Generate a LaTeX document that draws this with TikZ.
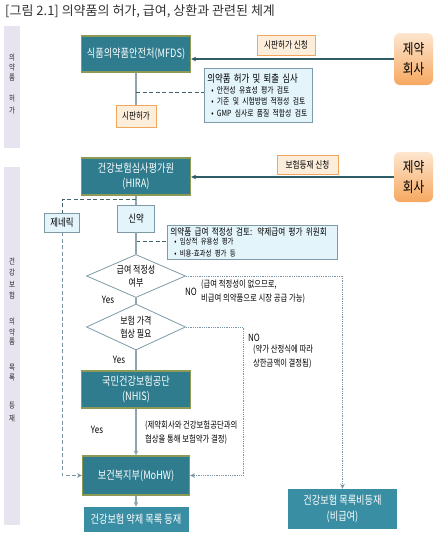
\documentclass[tikz,border=0pt]{standalone}
\usepackage{fontspec}
\setmainfont{Noto Sans CJK KR}[FakeStretch=0.8]
\newfontfamily\titlefont{Noto Sans CJK KR}
\usetikzlibrary{shapes.geometric,arrows.meta}

\definecolor{boxteal}{HTML}{2E7C8E}
\definecolor{listteal}{HTML}{3A8EA4}
\definecolor{boxrim}{HTML}{8C9A55}
\definecolor{peachfill}{HTML}{FDEEDC}
\definecolor{peachline}{HTML}{F2A65E}
\definecolor{palefill}{HTML}{E3F4FB}
\definecolor{paleline}{HTML}{7F9AA7}
\definecolor{darkarrow}{HTML}{2F5C66}
\definecolor{linkgray}{HTML}{8FA5AE}
\definecolor{dashgray}{HTML}{44626C}
\definecolor{dotgray}{HTML}{7A95A3}
\definecolor{sidebar}{HTML}{E7E4F0}
\definecolor{comptop}{HTML}{FDE6CF}
\definecolor{compbottom}{HTML}{F6A860}

\tikzset{
  agency/.style={draw=boxrim, line width=1.2pt, fill=boxteal, text=white, align=center,
    inner sep=0pt, font=\fontsize{11.5}{15}\selectfont},
  listbox/.style={fill=listteal, text=white, align=center, inner sep=0pt,
    font=\fontsize{11.5}{16}\selectfont},
  applybox/.style={draw=peachline, line width=0.8pt, fill=peachfill, inner sep=0pt,
    font=\fontsize{9.5}{11}\selectfont},
  reviewbox/.style={draw=paleline, line width=0.6pt, fill=palefill, align=left, inner sep=3pt},
  drugbox/.style={draw=paleline, line width=0.6pt, fill=palefill, inner sep=0pt,
    font=\fontsize{10.5}{12}\selectfont},
  company/.style={rounded corners=6pt, top color=comptop, bottom color=compbottom,
    align=center, inner sep=0pt, font=\fontsize{14.5}{20}\selectfont},
  decision/.style={diamond, aspect=2.3, draw=paleline, line width=0.8pt, fill=white,
    inner sep=0pt, align=center, minimum width=99, minimum height=43,
    font=\fontsize{10}{13}\selectfont},
  note/.style={align=left, inner sep=0pt, font=\fontsize{9.2}{14}\selectfont},
  answer/.style={inner sep=0pt, font=\fontsize{10}{11}\selectfont},
  sidechar/.style={inner sep=0pt, text=black!85, font=\fontsize{8}{9}\selectfont},
  link/.style={draw=linkgray, line width=1.2pt},
  dashlink/.style={draw=dashgray, line width=0.8pt, dash pattern=on 4pt off 2.5pt},
  dotlink/.style={draw=dotgray, line width=0.8pt, densely dotted},
  request/.style={draw=darkarrow, line width=1.3pt}
}

\begin{document}
\begin{tikzpicture}[x=1pt,y=-1pt,>={Stealth[length=5pt,width=4.5pt]}]
\useasboundingbox (0,0) rectangle (439,536);
\fill[white] (0,0) rectangle (439,536);

% title
\node[anchor=west, inner sep=0pt, text=black!80, font=\titlefont\fontsize{13}{14}\selectfont]
  (title) at (5,11) {[그림 2.1] 의약품의 허가, 급여, 상환과 관련된 체계};

% side bars
\fill[sidebar] (4,26) rectangle (20,148);
\fill[sidebar] (4,167) rectangle (20,525);
\foreach \ch/\y [count=\i] in {의/58,약/68,품/78,허/99,가/110}
  \node[sidechar] (pa\i) at (12,\y) {\ch};
\foreach \ch/\y [count=\i] in {건/261,강/272,보/284,험/295,의/322,약/332,품/342,목/368,록/378,등/406,재/418}
  \node[sidechar] (pb\i) at (12,\y) {\ch};

% --- approval
\node[agency, minimum width=109, minimum height=36] (mfds) at (136,54) {식품의약품안전처(MFDS)};
\node[applybox, minimum width=58, minimum height=20] (applyA) at (286,45) {시판허가 신청};
\node[company, minimum width=39, minimum height=52] (compA) at (413.5,59) {제약\\회사};
\node[reviewbox, anchor=north west, minimum width=108, minimum height=54, text width=102]
  (permitreview) at (204,68)
  {{\fontsize{10.5}{12}\selectfont 의약품 허가 및 퇴출 심사}\\[0.5pt]
   \fontsize{8.5}{11}\selectfont
   \hspace*{4pt}• 안전성 유효성 평가 검토\\
   \hspace*{4pt}• 기준 및 시험방법 적정성 검토\\
   \hspace*{4pt}• GMP 심사로 품질 적합성 검토};
\node[applybox, minimum width=40, minimum height=22] (permit) at (136,116) {시판허가};

\draw[request,->] (compA.west) -- (compA.west -| mfds.east);
\draw[link] (mfds.south) -- (permit.north);
\coordinate (tapA) at (136,92);
\draw[dashlink] (tapA) -- (tapA -| permitreview.west);

% --- reimbursement
\node[agency, minimum width=109, minimum height=37] (hira) at (136,176.5) {건강보험심사평가원\\(HIRA)};
\node[applybox, minimum width=61, minimum height=19] (applyB) at (307.5,164.5) {보험등재 신청};
\node[company, minimum width=39, minimum height=50] (compB) at (413.5,177) {제약\\회사};
\node[drugbox, minimum width=35, minimum height=19] (generic) at (62,222.5) {제네릭};
\node[drugbox, minimum width=37, minimum height=27] (newdrug) at (136,218.5) {신약};
\node[reviewbox, anchor=north west, minimum width=170, minimum height=33, text width=164, inner sep=2.5pt]
  (benefitreview) at (167,225)
  {{\fontsize{9.5}{11}\selectfont 의약품 급여 적정성 검토: 약제급여 평가 위원회}\\
   \fontsize{8}{9}\selectfont
   \hspace*{4pt}• 임상적 유용성 평가\\
   \hspace*{4pt}• 비용-효과성 평가 등};
\node[decision] (dec1) at (136,276) {급여 적정성\\여부};
\node[decision, minimum height=46] (dec2) at (136,327) {보험 가격\\협상 필요};
\node[agency, minimum width=109, minimum height=37] (nhis) at (136,389.5) {국민건강보험공단\\(NHIS)};
\node[agency, minimum width=107, minimum height=39] (mohw) at (136,475.5) {보건복지부(MoHW)};
\node[listbox, minimum width=105, minimum height=25] (listed) at (136,519.5) {건강보험 약제 목록 등재};
\node[listbox, minimum width=109, minimum height=40] (unlisted) at (342.5,509) {건강보험 목록비등재\\(비급여)};

\node[answer] (yesA) at (108,300) {Yes};
\node[answer] (noA) at (191,292) {NO};
\node[note, anchor=west] (noteA) at (201,292) {(급여 적정성이 없으므로,\\비급여 의약품으로 시장 공급 가능)};
\node[answer] (yesB) at (119,360) {Yes};
\node[answer] (noB) at (254,338) {NO};
\node[note, anchor=north west] (noteB) at (253,345) {(약가 산정식에 따라\\상한금액이 결정됨)};
\node[answer] (yesC) at (97,430) {Yes};
\node[note, anchor=west] (noteC) at (145,433) {(제약회사와 건강보험공단과의\\협상을 통해 보험약가 결정)};

\draw[request,->] (compB.west) -- (compB.west -| hira.east);
\draw[link] (hira.south) -- (newdrug.north);
\coordinate (tapB) at (136,199);
\draw[dashlink] (tapB) -- (tapB -| generic) -- (generic.north);
\coordinate (tapC) at (136,241);
\draw[dashlink] (tapC) -- (tapC -| benefitreview.west);
\draw[link] (newdrug.south) -- (dec1.north);
\draw[link] (dec1.south) -- (dec2.north);
\draw[link] (dec2.south) -- (nhis.north);
\draw[link,->] (nhis.south) -- (mohw.north);
\draw[link,->] (mohw.south) -- (listed.north);
\draw[dotlink,->] (dec1.east) -- (dec1.east -| unlisted) -- (unlisted.north);
\coordinate (priceturn) at (243,327);
\draw[dotlink,->] (dec2.east) -- (priceturn) |- (mohw.east);
\draw[dashlink,draw=dotgray,->] (generic.south) |- (mohw.west);
\end{tikzpicture}
\end{document}
